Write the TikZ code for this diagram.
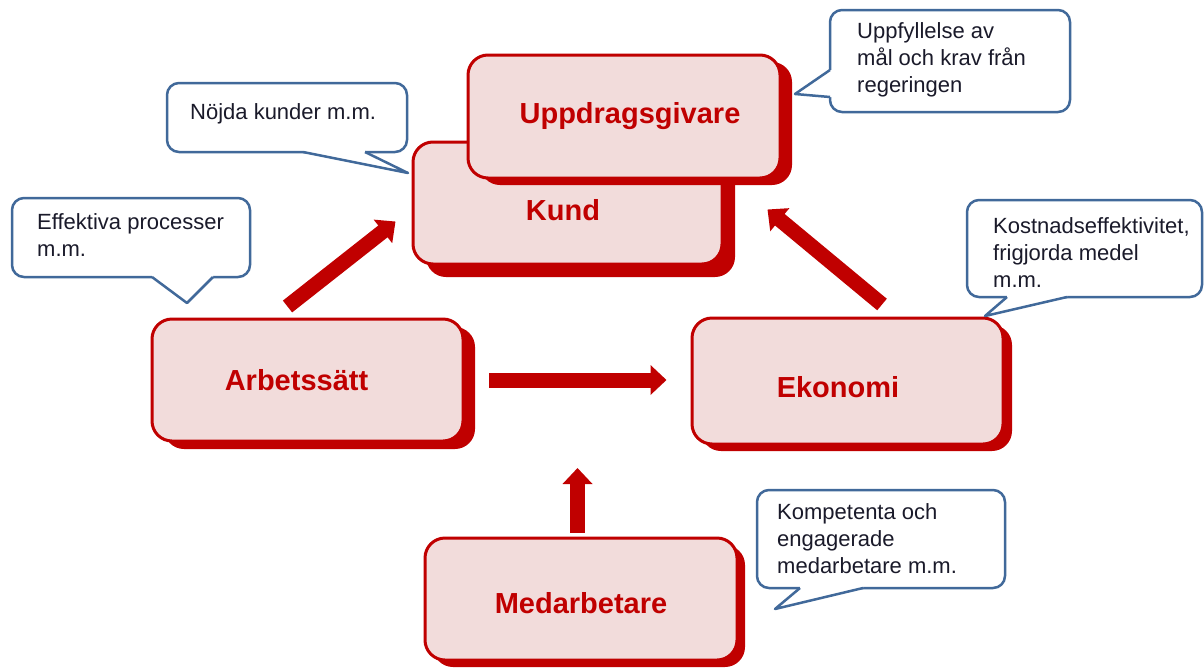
\documentclass[tikz,border=0pt]{standalone}
\usepackage{fontspec}
\setmainfont{Liberation Sans}
\usetikzlibrary{arrows.meta,shadows,calc}
\definecolor{boxred}{HTML}{C00000}
\definecolor{boxfill}{HTML}{F2DCDB}
\definecolor{cblue}{HTML}{41699A}
\definecolor{ctextc}{HTML}{1A1A2A}
\tikzset{
  mbox/.style={draw=boxred, line width=3pt, fill=boxfill, rounded corners=20pt,
    font=\fontsize{29}{34}\selectfont\bfseries, text=boxred, inner sep=0pt},
  sh/.style 2 args={drop shadow={shadow xshift=#1pt, shadow yshift=-#2pt, fill=boxred, opacity=1}},
  arr/.style={draw=boxred, line width=15pt, -{Triangle[width=29pt,length=16pt]}},
  cline/.style={draw=cblue, line width=2.5pt, line join=round},
  cbody/.style={cline, fill=white, rounded corners=12pt},
  ctxt/.style={anchor=north west, inner sep=0pt, align=left, text=ctextc,
    font=\fontsize{22}{27}\selectfont},
}
\begin{document}
\begin{tikzpicture}[x=1pt, y=-1pt]
\useasboundingbox (0,0) rectangle (1204,667);
\fill[white] (0,0) rectangle (1204,667);

% boxes
\node[mbox, sh={13}{13}, minimum width=309, minimum height=122,
  text height=35pt, text depth=0pt] (kund) at (567.5,203) {Kund\kern9pt};
\node[mbox, sh={12}{7}, minimum width=312, minimum height=123] (upp) at (624,116.5) {\kern12pt Uppdragsgivare};
\node[mbox, sh={12}{8}, minimum width=311, minimum height=122] (arb) at (307.5,380) {Arbetssätt\kern22pt};
\node[mbox, sh={9}{7}, minimum width=311, minimum height=126,
  text height=33pt, text depth=0pt] (eko) at (847.5,381) {Ekonomi\kern19pt};
\node[mbox, sh={8}{7}, minimum width=312, minimum height=122,
  text height=29pt, text depth=0pt] (med) at (581,599) {Medarbetare};

% arrows
\coordinate (vtip) at (577.5,468);
\draw[arr] ($(arb.north)+(-20,-11)$) -- ($(kund.south west)+(-16,-44)$);
\draw[arr] ($(eko.north)+(34.5,-12)$) -- ($(kund.south east)+(44,-56)$);
\draw[arr] ($(arb.east)+(24.5,0)$) -- ($(eko.west)+(-24,-1)$);
\draw[arr] ($(med.north)+(-3.5,-4)$) -- (vtip);

% callout 1
\draw[cbody] (167,83) rectangle (407,152);
\fill[white] (303,148) -- (303,152) -- (408,173) -- (365,152) -- (365,148) -- cycle;
\draw[cline] (303,152) -- (408,173) -- (365,152);
\node[ctxt] (t1) at (190,103) {Nöjda kunder m.m.};

% callout 2
\draw[cbody] (12,198) rectangle (250,277);
\fill[white] (152,273) -- (152,277) -- (187,303) -- (213,277) -- (213,273) -- cycle;
\draw[cline] (152,277) -- (187,303) -- (213,277);
\node[ctxt] (t2) at (37,213) {Effektiva processer\\m.m.};

% callout 3
\draw[cbody] (830,10) rectangle (1070,112);
\fill[white] (834,70) -- (830,70) -- (795,94) -- (830,97) -- (834,97) -- cycle;
\draw[cline] (830,70) -- (795,94) -- (830,97);
\node[ctxt] (t3) at (857,22) {Uppfyllelse av\\mål och krav från\\regeringen};

% callout 4
\draw[cbody] (967,200) rectangle (1202,297);
\fill[white] (1007,293) -- (1007,297) -- (985,316) -- (1067,297) -- (1067,293) -- cycle;
\draw[cline] (1007,297) -- (985,316) -- (1067,297);
\node[ctxt] (t4) at (993,217) {Kostnadseffektivitet,\\frigjorda medel\\m.m.};

% callout 5
\draw[cbody] (757,490) rectangle (1005,588);
\fill[white] (800,584) -- (800,588) -- (775,609) -- (863,588) -- (863,584) -- cycle;
\draw[cline] (800,588) -- (775,609) -- (863,588);
\node[ctxt] (t5) at (777,503) {Kompetenta och\\engagerade\\medarbetare m.m.};
\end{tikzpicture}
\end{document}
